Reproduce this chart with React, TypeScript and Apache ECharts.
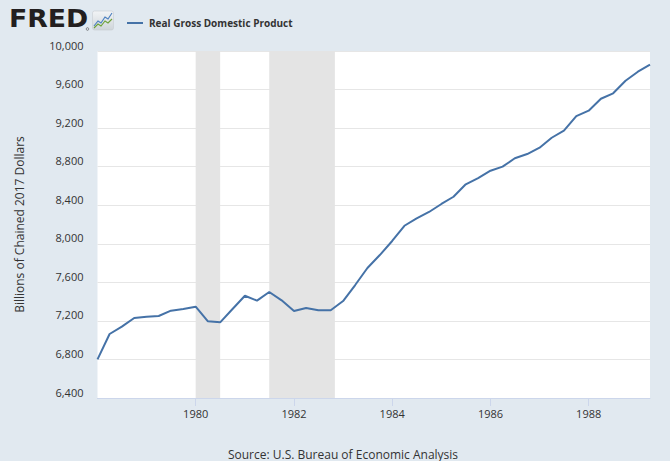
import React, { useEffect, useRef } from "react";
import * as echarts from "echarts";

const dates: string[] = [
  "1978-01-01", "1978-04-01", "1978-07-01", "1978-10-01",
  "1979-01-01", "1979-04-01", "1979-07-01", "1979-10-01",
  "1980-01-01", "1980-04-01", "1980-07-01", "1980-10-01",
  "1981-01-01", "1981-04-01", "1981-07-01", "1981-10-01",
  "1982-01-01", "1982-04-01", "1982-07-01", "1982-10-01",
  "1983-01-01", "1983-04-01", "1983-07-01", "1983-10-01",
  "1984-01-01", "1984-04-01", "1984-07-01", "1984-10-01",
  "1985-01-01", "1985-04-01", "1985-07-01", "1985-10-01",
  "1986-01-01", "1986-04-01", "1986-07-01", "1986-10-01",
  "1987-01-01", "1987-04-01", "1987-07-01", "1987-10-01",
  "1988-01-01", "1988-04-01", "1988-07-01", "1988-10-01",
  "1989-01-01", "1989-04-01",
];

const gdp: number[] = [
  6801, 7064, 7140, 7230,
  7243, 7251, 7306, 7323,
  7347, 7196, 7185, 7323,
  7461, 7410, 7500, 7413,
  7303, 7334, 7310, 7310,
  7406, 7572, 7749, 7883,
  8029, 8187, 8264, 8330,
  8413, 8488, 8617, 8682,
  8758, 8800, 8887, 8931,
  8997, 9100, 9173, 9325,
  9381, 9505, 9561, 9692,
  9785, 9858,
];

const recessions: [string, string][] = [
  ["1980-01-01", "1980-07-01"],
  ["1981-07-01", "1982-11-01"],
];

const xTickDates: string[] = ["1980-01-01", "1982-01-01", "1984-01-01", "1986-01-01", "1988-01-01"];

const yMin = 6400;
const yMax = 10000;
const yStep = 400;

const seriesName = "Real Gross Domestic Product";
const yTitle = "Billions of Chained 2017 Dollars";
const sourceText = "Source: U.S. Bureau of Economic Analysis";

const t = (s: string) => Date.parse(s);

export default function App() {
  const ref = useRef<HTMLDivElement>(null);
  useEffect(() => {
    if (!ref.current) return;
    const chart = echarts.init(ref.current, undefined, { renderer: "svg" });
    const font = "'Open Sans', sans-serif";
    const ticks = xTickDates.map(t);
    chart.setOption({
      animation: false,
      backgroundColor: "#e1e9f0",
      textStyle: { fontFamily: font },
      grid: { left: 97.5, right: 20, top: 51, bottom: 63, containLabel: false },
      legend: {
        show: true,
        left: 122,
        top: 13,
        icon: "rect",
        itemWidth: 16,
        itemHeight: 2,
        itemGap: 6,
        textStyle: { fontSize: 10, fontWeight: "bold", color: "#333333", fontFamily: font, padding: [0, 0, 0, 1] },
        data: [seriesName],
      },
      xAxis: {
        type: "value",
        min: t(dates[0]),
        max: t(dates[dates.length - 1]),
        axisLine: { show: true, lineStyle: { color: "#ccd6eb", width: 1 } },
        axisTick: { show: true, length: 8, lineStyle: { color: "#ccd6eb" }, customValues: ticks },
        axisLabel: {
          customValues: ticks,
          color: "#333333",
          fontSize: 11,
          margin: 10,
          fontFamily: font,
          formatter: (v: number) => String(new Date(v).getUTCFullYear()),
        },
        splitLine: { show: false },
      },
      yAxis: {
        type: "value",
        min: yMin,
        max: yMax,
        interval: yStep,
        name: yTitle,
        nameLocation: "middle",
        nameGap: 72,
        nameTextStyle: { fontSize: 12, color: "#333333", fontFamily: font },
        axisLine: { show: false },
        axisTick: { show: false },
        axisLabel: {
          color: "#333333",
          fontSize: 11,
          margin: 14,
          fontFamily: font,
          verticalAlign: "bottom",
          lineHeight: 12,
          formatter: (v: number) => v.toLocaleString("en-US"),
        },
        splitLine: { show: true, lineStyle: { color: "#e6e6e6", width: 1 } },
      },
      graphic: [
        { type: "rect", shape: { x: 97.5, y: 51, width: 552.5, height: 347 }, style: { fill: "#ffffff" }, z: -10, silent: true },
        {
          type: "text",
          x: 9,
          y: 6,
          scaleX: 1.07,
          style: { text: "FRED", font: "bold 25px 'DejaVu Sans', sans-serif", fill: "#231f20" },
        },
        { type: "circle", shape: { cx: 87.5, cy: 29, r: 1.3 }, style: { fill: "none", stroke: "#231f20", lineWidth: 0.5 } },
        {
          type: "rect",
          shape: { x: 92.5, y: 11, width: 21, height: 19, r: 2 },
          style: {
            fill: new echarts.graphic.LinearGradient(0, 0, 0, 1, [
              { offset: 0, color: "#f2f4f6" },
              { offset: 1, color: "#cfd5da" },
            ]),
            stroke: "#c8cdd2",
            lineWidth: 0.6,
          },
        },
        {
          type: "polyline",
          shape: { points: [[94, 26], [98, 21], [101, 23], [105, 17], [108, 19], [112, 13]] },
          style: { stroke: "#4a7fbf", lineWidth: 1.1, fill: "none" },
        },
        {
          type: "polyline",
          shape: { points: [[94, 28], [98, 24], [101, 26], [105, 21], [108, 23], [112, 19]] },
          style: { stroke: "#6da23a", lineWidth: 1.1, fill: "none" },
        },
        {
          type: "text",
          x: 343,
          y: 454,
          style: {
            text: sourceText,
            font: "12px 'Open Sans', sans-serif",
            fill: "#333333",
            align: "center",
            verticalAlign: "middle",
          },
        },
      ],
      series: [
        {
          name: seriesName,
          type: "line",
          data: dates.map((d, i) => [t(d), gdp[i]]),
          showSymbol: false,
          symbol: "none",
          lineStyle: { color: "#4572a7", width: 2 },
          itemStyle: { color: "#4572a7" },
          z: 5,
          markArea: {
            silent: true,
            itemStyle: { color: "#e4e4e4" },
            data: recessions.map(([a, b]) => [{ xAxis: t(a) }, { xAxis: t(b) }]),
          },
        },
      ],
    });
    return () => chart.dispose();
  }, []);
  return <div ref={ref} style={{ position: "fixed", left: 0, top: 0, width: 670, height: 461 }} />;
}
